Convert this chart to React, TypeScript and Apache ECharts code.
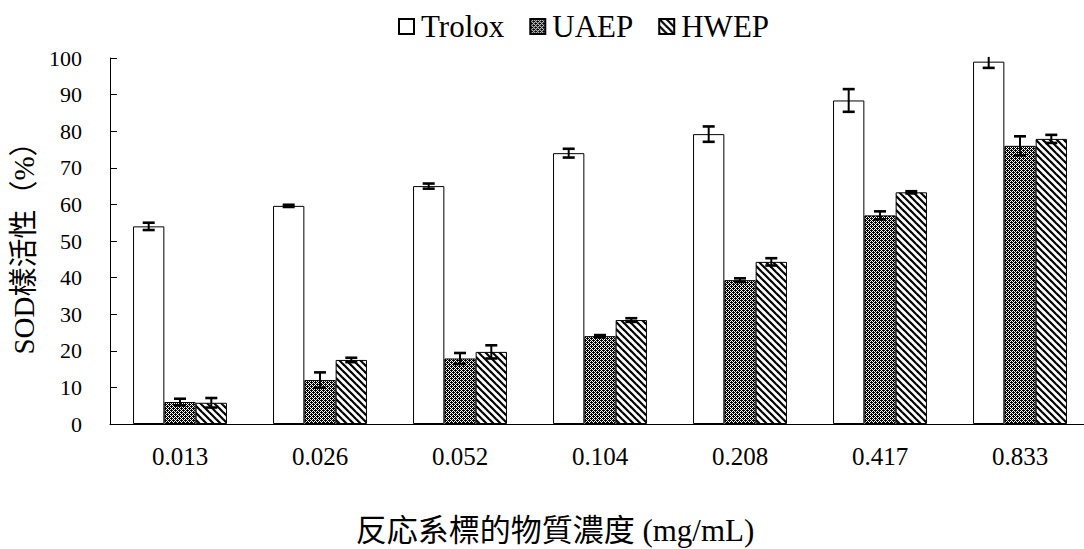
import React, { useEffect, useRef } from "react";
import * as echarts from "echarts";

// Concentrations on the category axis (mg/mL)
const CATEGORIES = ["0.013", "0.026", "0.052", "0.104", "0.208", "0.417", "0.833"];
const SERIES_NAMES = ["Trolox", "UAEP", "HWEP"];

// SOD-like activity (%) and standard deviations
const TROLOX = [54.0, 59.6, 65.0, 74.0, 79.2, 88.4, 99.0];
const TROLOX_ERR = [1.0, 0.3, 0.7, 1.2, 2.1, 3.1, 1.7];
const UAEP = [6.0, 12.0, 17.9, 24.0, 39.3, 57.0, 76.0];
const UAEP_ERR = [0.9, 2.1, 1.5, 0.3, 0.5, 1.1, 2.6];
const HWEP = [5.8, 17.5, 19.7, 28.4, 44.3, 63.3, 77.9];
const HWEP_ERR = [1.3, 0.6, 1.8, 0.5, 1.0, 0.3, 1.1];

const Y_TICKS = { min: 0, max: 100, interval: 10 };

const FONT = "'Liberation Serif', 'Noto Sans CJK TC', serif";
const BAR_FRAC = 0.2236;

// dense dark mesh
function meshPattern() {
  const n = 4;
  const c = document.createElement("canvas");
  c.width = n;
  c.height = n;
  const ctx = c.getContext("2d")!;
  ctx.fillStyle = "#000";
  ctx.fillRect(0, 0, n, n);
  ctx.fillStyle = "#fff";
  for (let y = 0; y < n; y++) {
    for (let x = 0; x < n; x++) {
      const white = (x + y) % 2 === 1 && !(x === 1 && y === 0) && !(x === 3 && y === 2);
      if (white) ctx.fillRect(x, y, 1, 1);
    }
  }
  return { image: c, repeat: "repeat", imageWidth: n, imageHeight: n };
}

// backslash-direction hatching
function stripePattern() {
  const s = 7;
  const c = document.createElement("canvas");
  c.width = s;
  c.height = s;
  const ctx = c.getContext("2d")!;
  ctx.fillStyle = "#fff";
  ctx.fillRect(0, 0, s, s);
  ctx.strokeStyle = "#000";
  ctx.lineWidth = 2.2;
  for (const d of [-s, 0, s]) {
    ctx.beginPath();
    ctx.moveTo(d - 1, -1);
    ctx.lineTo(d + s + 1, s + 1);
    ctx.stroke();
  }
  return { image: c, repeat: "repeat", imageWidth: s, imageHeight: s };
}

export default function App() {
  const ref = useRef<HTMLDivElement>(null);

  useEffect(() => {
    if (!ref.current) return;
    const chart = echarts.init(ref.current, null, { renderer: "svg" });

    const fills = ["#ffffff", meshPattern(), stripePattern()];
    const values = [TROLOX, UAEP, HWEP];
    const errors = [TROLOX_ERR, UAEP_ERR, HWEP_ERR];

    const barSeries = SERIES_NAMES.map((name, k) => ({
      name,
      type: "bar",
      data: values[k],
      barWidth: (BAR_FRAC * 100).toFixed(2) + "%",
      barGap: "0%",
      itemStyle: { color: fills[k], borderColor: "#000", borderWidth: 1 },
      z: 2,
    }));

    const errSeries = SERIES_NAMES.map((name, k) => ({
      name: name + " SD",
      type: "custom",
      z: 5,
      encode: { x: 0, y: 1 },
      data: values[k].map((v, i) => [i, v, errors[k][i]]),
      renderItem: (params: any, api: any) => {
        const ci = api.value(0);
        const v = api.value(1);
        const e = api.value(2);
        const band = api.size([1, 0])[0];
        const off = band * BAR_FRAC * (k - 1);
        const over = v + e > Y_TICKS.max;
        const top = api.coord([ci, over ? Y_TICKS.max + 0.3 : v + e]);
        const bot = api.coord([ci, v - e]);
        const x = top[0] + off;
        const cap = 6;
        const st = { stroke: "#000", lineWidth: 2.6 };
        const children: any[] = [
          { type: "line", shape: { x1: x, y1: top[1], x2: x, y2: bot[1] }, style: { stroke: "#000", lineWidth: 2 } },
          { type: "line", shape: { x1: x - cap, y1: bot[1], x2: x + cap, y2: bot[1] }, style: st },
        ];
        if (!over) {
          children.push({ type: "line", shape: { x1: x - cap, y1: top[1], x2: x + cap, y2: top[1] }, style: st });
        }
        return { type: "group", children };
      },
    }));

    chart.setOption({
      animation: false,
      backgroundColor: "#ffffff",
      textStyle: { fontFamily: FONT, color: "#000" },
      legend: {
        data: SERIES_NAMES,
        left: 398,
        top: 11,
        padding: 0,
        itemWidth: 15,
        itemHeight: 15,
        itemGap: 25,
        icon: "rect",
        textStyle: { fontFamily: FONT, fontSize: 31, color: "#000", padding: [0, 0, 0, 2] },
      },
      grid: {
        left: 110,
        top: 58,
        width: 980,
        height: 366,
        containLabel: false,
        outerBoundsMode: "none",
      },
      xAxis: {
        type: "category",
        data: CATEGORIES,
        axisLine: { lineStyle: { color: "#000", width: 1 } },
        axisTick: { inside: true, length: 7, lineStyle: { color: "#000" } },
        axisLabel: { fontFamily: FONT, fontSize: 25, color: "#000", margin: 20 },
        splitLine: { show: false },
      },
      yAxis: {
        type: "value",
        min: Y_TICKS.min,
        max: Y_TICKS.max,
        interval: Y_TICKS.interval,
        name: "SOD樣活性（%）",
        nameLocation: "middle",
        nameRotate: 90,
        nameGap: 70,
        nameTextStyle: { fontFamily: FONT, fontSize: 29, color: "#000" },
        axisLine: { show: true, lineStyle: { color: "#000", width: 1 } },
        axisTick: { show: true, inside: true, length: 7, lineStyle: { color: "#000" } },
        axisLabel: { fontFamily: FONT, fontSize: 22, color: "#000", margin: 28 },
        splitLine: { show: false },
      },
      graphic: [
        {
          type: "text",
          x: 555,
          y: 530,
          style: {
            text: "反応系標的物質濃度 (mg/mL)",
            fontFamily: FONT,
            fontSize: 31,
            fill: "#000",
            align: "center",
            verticalAlign: "middle",
          },
        },
      ],
      series: [...barSeries, ...errSeries],
    });

    return () => chart.dispose();
  }, []);

  return (
    <div
      ref={ref}
      style={{ position: "fixed", left: 0, top: 0, width: 1084, height: 549, background: "#fff" }}
    />
  );
}
